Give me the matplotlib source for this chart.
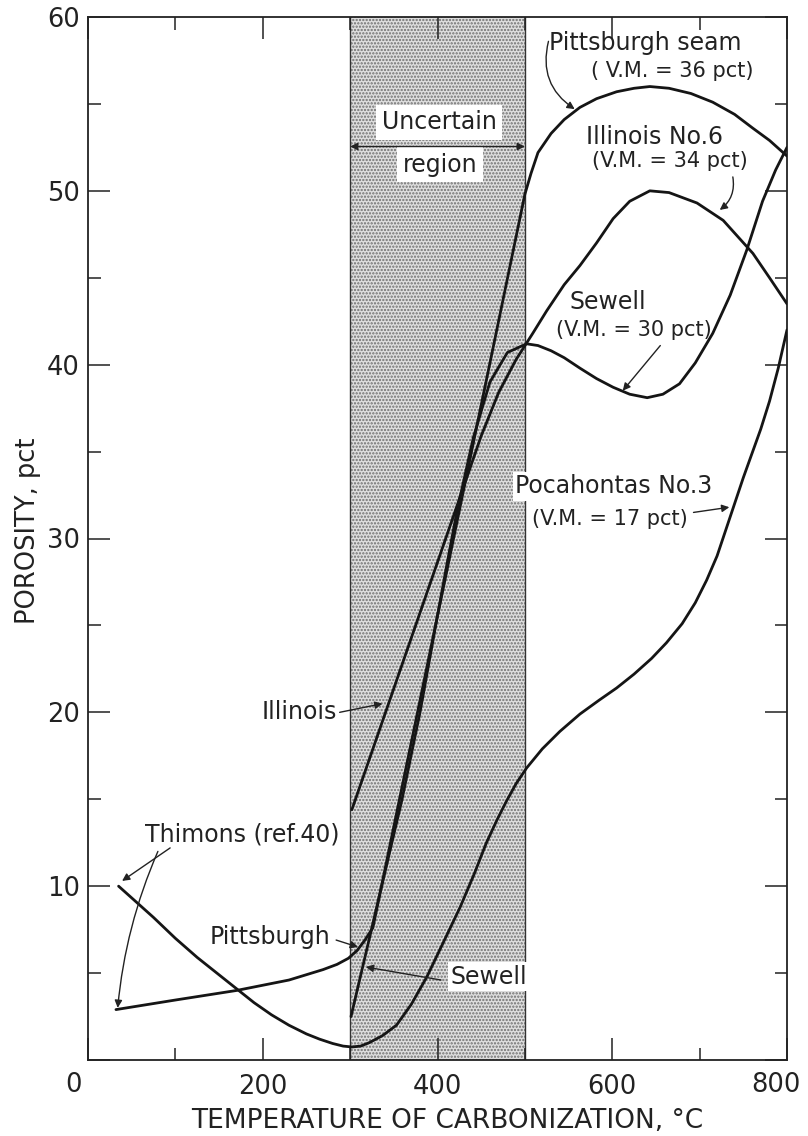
import matplotlib
matplotlib.use('Agg')
import matplotlib.pyplot as plt
from matplotlib.ticker import MultipleLocator, FixedLocator

plt.rcParams['font.family'] = ['DejaVu Sans']
plt.rcParams['hatch.linewidth'] = 1.1
plt.rcParams['hatch.color'] = '#6f6f6f'

# ---------------- data ----------------
# Pocahontas No.3 (low-temperature part: Thimons, ref. 40)
poca_x = [35, 55, 75, 100, 125, 150, 170, 190, 210, 230, 250, 265, 280, 292, 302,
          312, 322, 337, 353, 370, 388, 407, 426, 442, 456, 468, 479, 490, 502,
          520, 540, 563, 585, 605, 625, 645, 662, 680, 695, 708, 720, 730, 740, 750,
          760, 770, 780, 790, 800]
poca_y = [10.0, 9.1, 8.2, 7.0, 5.9, 4.9, 4.1, 3.3, 2.6, 2.0, 1.5, 1.2, 0.95, 0.8, 0.75,
          0.8, 1.0, 1.4, 2.0, 3.2, 4.8, 6.8, 8.8, 10.7, 12.5, 13.8, 14.9, 15.9, 16.8,
          17.9, 18.9, 19.9, 20.7, 21.4, 22.2, 23.1, 24.0, 25.1, 26.3, 27.6, 29.0, 30.5, 32.0, 33.5,
          34.9, 36.3, 37.9, 39.8, 42.0]

# Pittsburgh seam (low-temperature part: Thimons, ref. 40)
pitt_x = [32, 100, 170, 230, 269, 285, 298, 308, 317, 326, 500, 507, 515, 530, 545,
          563, 582, 605, 625, 643, 665, 690, 715, 740, 761, 780, 800]
pitt_y = [2.9, 3.45, 4.0, 4.6, 5.2, 5.5, 5.85, 6.3, 6.9, 7.6, 49.8, 51.0, 52.2, 53.3, 54.1,
          54.8, 55.3, 55.7, 55.9, 56.0, 55.9, 55.6, 55.1, 54.4, 53.6, 52.9, 52.0]

# Sewell
sew_x = [301, 330, 359, 380, 399, 410, 422, 441, 460, 480, 502, 515, 530, 545, 563,
         582, 601, 620, 640, 658, 677, 695, 715, 735, 754, 772, 787, 800]
sew_y = [2.5, 8.7, 14.9, 20.0, 25.3, 28.3, 31.5, 35.8, 39.0, 40.7, 41.2, 41.1, 40.8, 40.4, 39.8,
         39.2, 38.7, 38.3, 38.1, 38.3, 38.9, 40.1, 41.8, 44.0, 46.6, 49.4, 51.2, 52.5]

# Illinois No.6
ill_x = [302, 450, 470, 490, 509, 525, 545, 563, 582, 601, 620, 643, 665, 697, 727,
         761, 780, 800]
ill_y = [14.4, 35.9, 38.4, 40.3, 41.8, 43.1, 44.6, 45.7, 47.0, 48.4, 49.4, 50.0, 49.9, 49.3, 48.3,
         46.4, 45.0, 43.5]

# uncertain region bounds
unc_lo, unc_hi = 300, 500

x_major = [0, 200, 400, 600, 800]
x_major_labels = ['', '200', '400', '600', '']
y_major = [0, 10, 20, 30, 40, 50, 60]
y_major_labels = ['', '10', '20', '30', '40', '50', '60']

# ---------------- figure ----------------
fig = plt.figure(figsize=(8.08, 11.36), dpi=100)
ax = fig.add_axes([88 / 808, 76 / 1136, 699 / 808, 1043 / 1136])
ax.set_xlim(0, 800)
ax.set_ylim(0, 60)

ax.axvspan(unc_lo, unc_hi, facecolor='#dedede', edgecolor='#6f6f6f', hatch='.....',
           lw=0, zorder=0)
ax.axvline(unc_lo, color='#333333', lw=1.0, zorder=1)
ax.axvline(unc_hi, color='#333333', lw=1.0, zorder=1)

line_kw = dict(color='#151515', lw=2.0, solid_joinstyle='round', solid_capstyle='round',
               zorder=3)
ax.plot(poca_x, poca_y, **line_kw)
ax.plot(pitt_x, pitt_y, **line_kw)
ax.plot(sew_x, sew_y, **line_kw)
ax.plot(ill_x, ill_y, **line_kw)

# ticks
ax.xaxis.set_major_locator(FixedLocator(x_major))
ax.set_xticklabels(x_major_labels)
ax.xaxis.set_minor_locator(MultipleLocator(100))
ax.yaxis.set_major_locator(FixedLocator(y_major))
ax.set_yticklabels(y_major_labels)
ax.yaxis.set_minor_locator(MultipleLocator(5))
ax.tick_params(which='both', direction='in', top=True, right=True, width=1.1,
               colors='#222222', labelsize=18.5)
ax.tick_params(which='major', length=16)
ax.tick_params(which='minor', length=9)
ax.tick_params(axis='x', pad=10)
ax.tick_params(axis='y', pad=6)
for s in ax.spines.values():
    s.set_linewidth(1.3)
    s.set_color('#222222')

ax.text(-17, -1.45, '0', fontsize=18.5, ha='center', va='center', color='#222222',
        clip_on=False)
ax.text(787, -1.45, '800', fontsize=18.5, ha='center', va='center', color='#222222',
        clip_on=False)

fig.text(447 / 808, 1 - 1121 / 1136, 'TEMPERATURE OF CARBONIZATION, \u00b0C', fontsize=19,
         ha='center', va='center', color='#222222')
fig.text(28 / 808, 1 - 531 / 1136, 'POROSITY, pct', fontsize=18.5, rotation=90,
         ha='center', va='center', color='#222222')

# ---------------- annotations ----------------
tc = '#222222'
lab = 17
vm = 15
white = dict(facecolor='white', edgecolor='none', pad=2)
arr = dict(arrowstyle='-|>', color=tc, lw=1.0, mutation_scale=11, shrinkA=0, shrinkB=0)

ax.text(638, 58.5, 'Pittsburgh seam', fontsize=lab, ha='center', va='center', color=tc)
ax.text(669, 56.9, '( V.M. = 36 pct)', fontsize=vm, ha='center', va='center', color=tc)
ax.annotate('', xy=(557, 54.7), xytext=(527, 58.6),
            arrowprops=dict(arr, connectionstyle='arc3,rad=0.35'))

ax.text(402, 53.95, 'Uncertain', fontsize=lab, ha='center', va='center', color=tc,
        bbox=dict(facecolor='white', edgecolor='none', pad=4), zorder=4)
ax.text(403, 51.5, 'region', fontsize=lab, ha='center', va='center', color=tc,
        bbox=dict(facecolor='white', edgecolor='none', pad=4), zorder=4)
ax.annotate('', xy=(300, 52.55), xytext=(500, 52.55),
            arrowprops=dict(arrowstyle='<|-|>', color=tc, lw=1.0, mutation_scale=11,
                            shrinkA=0, shrinkB=0), zorder=5)

ax.text(648, 53.1, 'Illinois No.6', fontsize=lab, ha='center', va='center', color=tc)
ax.text(666, 51.7, '(V.M. = 34 pct)', fontsize=vm, ha='center', va='center', color=tc)
ax.annotate('', xy=(723, 48.9), xytext=(738, 50.8),
            arrowprops=dict(arr, connectionstyle='arc3,rad=-0.3'))

ax.text(595, 43.6, 'Sewell', fontsize=lab, ha='center', va='center', color=tc)
ax.text(625, 42.0, '(V.M. = 30 pct)', fontsize=vm, ha='center', va='center', color=tc)
ax.annotate('', xy=(612, 38.5), xytext=(655, 41.1), arrowprops=arr)

ax.text(602, 33.0, 'Pocahontas No.3', fontsize=lab, ha='center', va='center', color=tc,
        bbox=white, zorder=2)
ax.text(597, 31.1, '(V.M. = 17 pct)', fontsize=vm, ha='center', va='center', color=tc,
        bbox=white, zorder=2)
ax.annotate('', xy=(734, 31.8), xytext=(693, 31.5), arrowprops=arr)

ax.text(285, 20.0, 'Illinois', fontsize=lab, ha='right', va='center', color=tc)
ax.annotate('', xy=(337, 20.5), xytext=(288, 20.0), arrowprops=arr)

ax.text(176, 13.0, 'Thimons (ref.40)', fontsize=lab, ha='center', va='center', color=tc)
ax.annotate('', xy=(39, 10.3), xytext=(94, 12.2), arrowprops=arr)
ax.annotate('', xy=(34, 3.0), xytext=(80, 12.0),
            arrowprops=dict(arr, connectionstyle='arc3,rad=0.08'))

ax.text(208, 7.1, 'Pittsburgh', fontsize=lab, ha='center', va='center', color=tc)
ax.annotate('', xy=(309, 6.5), xytext=(284, 6.9), arrowprops=arr)

ax.text(459, 4.8, 'Sewell', fontsize=lab, ha='center', va='center', color=tc,
        bbox=white, zorder=2)
ax.annotate('', xy=(318, 5.35), xytext=(404, 4.6), arrowprops=arr, zorder=4)

fig.savefig('out.png', dpi=100, facecolor='white')
